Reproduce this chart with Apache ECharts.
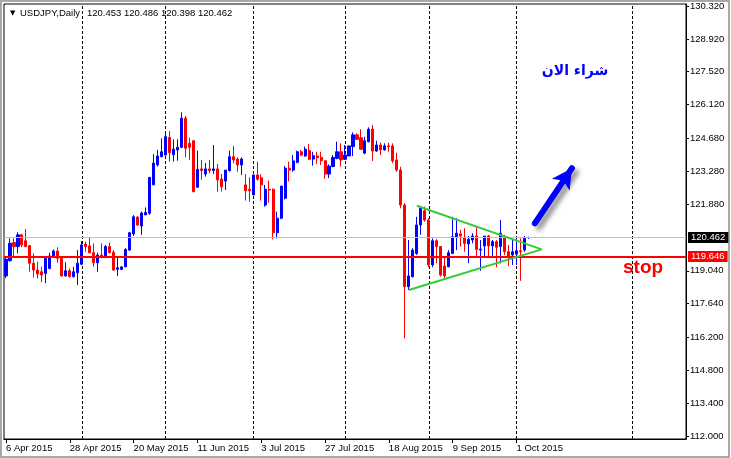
<!DOCTYPE html>
<html><head><meta charset="utf-8">
<script src="https://cdn.jsdelivr.net/npm/echarts@6/dist/echarts.min.js"></script>
<style>html,body{margin:0;padding:0;background:#fff}#c{width:731px;height:458px}</style>
</head><body><div id="c"></div><script>
const symbolName = 'USDJPY', periodName = 'Daily';
// daily OHLC of USDJPY, one entry per trading day starting 6 Apr 2015
const opens = [118.82,119.47,120.24,120.07,120.57,120.32,120.11,119.36,119.07,119.00,
118.93,119.14,119.64,119.88,119.57,118.82,119.04,118.79,118.96,119.32,
120.18,120.10,119.81,119.38,119.71,119.61,120.07,119.83,119.10,119.10,
119.21,119.92,120.61,121.33,120.95,121.42,121.49,122.70,123.55,123.90,
123.97,124.72,123.99,124.19,124.30,125.54,124.47,124.58,122.60,123.38,
123.16,123.38,123.31,123.38,122.95,122.86,123.31,123.90,123.80,123.55,
122.70,122.51,122.27,123.12,123.00,121.84,122.51,122.51,120.66,121.28,
122.13,123.41,123.33,123.66,124.11,123.93,124.16,123.80,123.93,123.87,
123.73,123.16,123.48,123.83,124.11,123.79,123.93,124.33,124.83,124.71,
124.05,124.54,125.08,124.14,124.40,124.19,124.36,124.36,123.76,123.33,
121.84,118.36,118.78,119.78,120.99,121.60,121.20,119.29,120.32,120.07,
119.24,119.21,119.78,120.47,120.61,120.47,120.18,120.35,120.52,119.92,
120.10,120.52,120.10,120.28,120.07,120.49,119.85,119.71,119.75,119.89,
119.92,120.453];
const closes = [119.53,120.21,120.07,120.57,120.14,120.07,119.36,119.07,118.90,118.86,
119.57,119.67,119.88,119.57,118.82,119.04,118.79,119.00,119.36,120.14,
120.07,119.81,119.38,119.71,119.61,120.07,119.81,119.07,119.17,119.20,
119.95,120.66,121.34,120.99,121.50,121.53,123.02,123.63,123.93,124.11,
124.75,124.07,124.22,124.30,125.54,124.26,124.30,122.41,123.36,123.31,
123.38,123.31,123.38,122.91,122.62,123.33,123.90,123.76,123.55,123.80,
122.45,122.45,123.12,122.94,122.70,122.51,122.48,120.66,121.28,122.65,
123.41,123.33,123.72,124.11,123.97,124.22,123.79,123.94,123.86,123.73,
123.16,123.50,123.87,124.11,123.76,123.97,124.36,124.83,124.64,124.22,
124.58,125.07,124.14,124.40,124.19,124.36,124.33,123.72,123.33,121.84,
118.36,118.82,119.92,120.99,121.70,121.20,119.29,120.32,120.07,118.86,
118.82,119.81,120.49,120.64,120.52,120.21,120.38,120.52,119.95,119.96,
120.52,120.10,120.28,120.04,120.64,119.85,119.67,119.85,119.89,119.85,
120.42,120.462];
const lows = [118.73,119.43,119.64,119.78,120.04,120.04,119.00,118.75,118.71,118.55,
118.51,119.10,119.61,119.38,118.79,118.79,118.75,118.75,118.43,119.28,
119.85,119.78,119.21,119.00,119.57,119.57,119.78,119.04,118.82,119.07,
119.19,119.89,120.52,120.95,120.57,121.42,121.42,122.70,123.48,123.87,
123.97,123.69,123.69,123.73,124.26,123.87,123.76,122.38,122.58,122.91,
123.05,123.19,123.16,122.41,122.41,122.48,123.26,123.62,123.26,123.12,
122.03,121.98,122.27,122.88,122.03,121.77,121.94,120.38,120.42,121.24,
122.08,122.84,123.26,123.62,123.93,123.90,123.76,123.52,123.59,123.55,
122.96,122.99,123.45,123.79,123.48,123.76,123.93,123.93,124.61,124.19,
124.01,124.51,123.72,124.11,123.97,124.16,124.11,123.62,123.26,121.70,
116.16,118.22,118.78,119.71,120.57,121.13,119.19,119.19,119.36,118.79,
118.71,119.19,119.75,119.92,120.07,119.85,119.36,120.21,119.67,119.04,
119.67,119.67,119.64,119.19,119.36,119.71,119.24,119.29,119.29,118.61,
119.85,120.398];
const highs = [119.63,120.42,120.42,120.68,120.61,120.82,120.14,119.78,119.43,119.21,
119.64,119.81,119.95,120.04,119.61,119.40,119.14,119.21,119.92,120.31,
120.28,120.47,120.21,119.81,120.21,120.14,120.24,119.92,119.64,119.24,
120.00,120.70,121.41,121.36,121.56,121.74,123.02,124.01,124.19,124.68,
124.92,124.99,124.64,124.64,125.79,125.63,124.71,124.60,124.16,123.76,
123.63,123.76,124.40,123.59,123.16,123.33,124.16,124.36,123.87,123.87,
123.16,123.02,123.12,123.69,123.16,122.70,122.88,122.55,121.56,122.65,
123.50,123.69,123.97,124.16,124.19,124.33,124.44,124.11,124.11,124.11,
123.73,123.57,123.97,124.54,124.47,124.40,124.36,124.94,124.90,125.07,
124.75,125.15,125.25,124.58,124.50,124.47,124.50,124.47,124.07,123.47,
121.92,120.35,120.00,121.34,121.70,121.77,121.28,120.42,120.38,120.07,
119.64,119.92,121.34,121.28,120.78,120.85,120.52,120.64,120.95,120.35,
120.52,120.57,120.35,120.35,121.20,120.57,120.14,120.35,120.42,120.42,
120.52,120.486];
const startDate = [2015, 3, 6];          // 6 Apr 2015
const categoryCount = 171;               // trading-day slots shown across the chart
const xTickIndex = [0,16,32,48,64,80,96,112,128];
const yTickLabels = [130.320,128.920,127.520,126.120,124.680,123.280,121.880,119.040,117.640,116.200,114.800,113.400,112.000];
const yMin = 111.872, yMax = 130.406;
const monthSeparators = [19,40,62,85,106,128,157];
const bidPrice = 120.462, stopPrice = 119.646;
const trianglePoints = [[103,121.81],[134.3,119.95],[101,118.22]];
const arrowFrom = [132.6,121.06], arrowTo = [141.9,123.41];
const buyText = 'شراء الان', stopText = 'stop';

const MONTHS = ['Jan','Feb','Mar','Apr','May','Jun','Jul','Aug','Sep','Oct','Nov','Dec'];
const categories = [];
const d = new Date(Date.UTC(startDate[0], startDate[1], startDate[2]));
while (categories.length < categoryCount) {
  const wd = d.getUTCDay();
  if (wd !== 0 && wd !== 6) categories.push(d.getUTCDate() + ' ' + MONTHS[d.getUTCMonth()] + ' ' + d.getUTCFullYear());
  d.setUTCDate(d.getUTCDate() + 1);
}
const candles = opens.map((o, i) => [o, closes[i], lows[i], highs[i]]);
const last = opens.length - 1;
const header = [opens[last], highs[last], lows[last], closes[last]].map(v => v.toFixed(3)).join(' ');
const FONT = '"Liberation Sans", Arial, sans-serif';

const chart = echarts.init(document.getElementById('c'), null, {renderer: 'canvas'});
const option = {
  animation: false,
  backgroundColor: '#fff',
  grid: {left: 4, right: 45, top: 4, bottom: 19, show: true, borderColor: '#000', borderWidth: 1, backgroundColor: '#fff'},
  xAxis: [{
    type: 'category', data: categories, boundaryGap: true,
    axisLine: {show: true, onZero: false, lineStyle: {color: '#000', width: 1}},
    axisTick: {show: true, alignWithLabel: true, length: 4, interval: (i) => xTickIndex.includes(i), lineStyle: {color: '#000'}},
    axisLabel: {interval: (i) => xTickIndex.includes(i), align: 'left', margin: 4, fontSize: 9.5, fontFamily: FONT, color: '#000'},
    splitLine: {show: false}
  }, {
    type: 'value', min: -0.5, max: categoryCount - 0.5, show: false,
    axisLine: {show: false, onZero: false}, axisTick: {show: false}, axisLabel: {show: false}, splitLine: {show: false}
  }],
  yAxis: [{
    type: 'value', position: 'right', min: yMin, max: yMax, scale: true,
    axisLine: {show: true, onZero: false, lineStyle: {color: '#000', width: 1}},
    axisTick: {show: true, length: 3, customValues: yTickLabels, lineStyle: {color: '#000'}},
    axisLabel: {customValues: yTickLabels, formatter: v => Number(v).toFixed(3), margin: 4, fontSize: 9.5, fontFamily: FONT, color: '#000'},
    splitLine: {show: false}
  }],
  series: [{
    type: 'line', xAxisIndex: 1, yAxisIndex: 0, data: [], z: 1, silent: true,
    markLine: {
      silent: true, symbol: ['none', 'none'], z: 1, animation: false,
      label: {show: false},
      lineStyle: {color: '#000', type: [3, 2], width: 1},
      emphasis: {disabled: true},
      data: monthSeparators.map(v => ({xAxis: v}))
    }
  }, {
    type: 'candlestick', xAxisIndex: 0, yAxisIndex: 0, z: 2,
    barWidth: 2.6, data: candles, silent: true,
    itemStyle: {color: '#0000ff', color0: '#ff0000', borderColor: '#0000ff', borderColor0: '#ff0000', borderWidth: 1},
    markLine: {
      silent: true, symbol: ['none', 'none'], z: 3, animation: false, precision: 3,
      emphasis: {disabled: true},
      data: [
        {yAxis: bidPrice, lineStyle: {color: '#c0c0c0', width: 1, type: 'solid'},
          label: {show: true, position: 'end', distance: 2, formatter: () => bidPrice.toFixed(3),
            backgroundColor: '#000', color: '#fff', padding: [1, 3, 0, 3], fontSize: 9.5, fontFamily: FONT}},
        {yAxis: stopPrice, lineStyle: {color: '#ff0000', width: 2, type: 'solid'},
          label: {show: true, position: 'end', distance: 2, formatter: () => stopPrice.toFixed(3),
            backgroundColor: '#ff0000', color: '#fff', padding: [1, 3, 0, 3], fontSize: 9.5, fontFamily: FONT}}
      ]
    }
  }, {
    type: 'line', xAxisIndex: 1, yAxisIndex: 0, z: 4, silent: true,
    data: trianglePoints, symbol: 'none',
    lineStyle: {color: '#32cd32', width: 2}
  }, {
    type: 'line', xAxisIndex: 1, yAxisIndex: 0, data: [], z: 5, silent: true,
    markLine: {
      silent: true, symbol: ['none', 'arrow'], symbolSize: [16, 20], z: 5, animation: false,
      label: {show: false}, emphasis: {disabled: true},
      lineStyle: {color: '#0000ff', width: 6, type: 'solid', cap: 'round',
        shadowColor: 'rgba(0,0,0,0.45)', shadowBlur: 5, shadowOffsetX: 4, shadowOffsetY: 4},
      data: [[{coord: arrowFrom}, {coord: arrowTo}]]
    }
  }],
  graphic: [
    {type: 'rect', silent: true, shape: {x: 1, y: 1, width: 728, height: 456}, style: {fill: null, stroke: '#a8a8a8', lineWidth: 2}},
    {type: 'text', silent: true, x: 10, y: 13, style: {text: '▼', fill: '#000', font: '7px "DejaVu Sans"', verticalAlign: 'middle'}},
    {type: 'text', silent: true, x: 20, y: 13, style: {text: symbolName + ',' + periodName, fill: '#000', font: '9.5px ' + FONT, verticalAlign: 'middle'}},
    {type: 'text', silent: true, x: 87, y: 13, style: {text: header, fill: '#000', font: '9.5px ' + FONT, verticalAlign: 'middle'}},
    {type: 'text', silent: true, x: 575, y: 71, style: {text: buyText, fill: '#0000ff', font: 'bold 14px "DejaVu Sans"', align: 'center', verticalAlign: 'middle'}},
    {type: 'text', silent: true, x: 623, y: 268, style: {text: stopText, fill: '#ff0000', font: 'bold 19px ' + FONT, verticalAlign: 'middle'}}
  ]
};
chart.setOption(option);
</script></body></html>
